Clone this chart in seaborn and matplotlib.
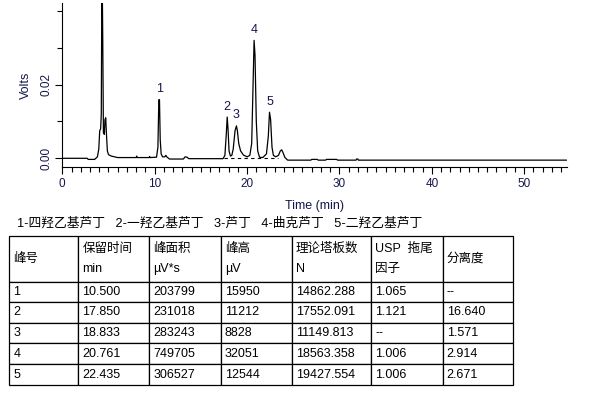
import matplotlib
matplotlib.use("Agg")
import matplotlib.pyplot as plt
from matplotlib.ticker import MultipleLocator, FixedLocator
import seaborn as sns

# chromatogram trace (min, V)
trace_time = [0, 2.7, 2.8, 3.5, 3.8, 3.95, 4.05, 4.15, 4.22, 4.28, 4.33, 4.38,
              4.45, 4.55, 4.62, 4.7, 4.78, 4.88, 5.0, 5.3, 6.0, 8.0, 8.05, 8.1,
              9.4, 9.45, 9.5, 10.2, 10.35, 10.45, 10.52, 10.6, 10.7, 10.85,
              11.1, 11.2, 11.35, 11.6, 13.1, 13.3, 13.5, 13.7, 17.4, 17.6,
              17.75, 17.85, 17.95, 18.05, 18.2, 18.35, 18.5, 18.7, 18.85, 18.95,
              19.1, 19.3, 19.6, 20.0, 20.3, 20.5, 20.65, 20.76, 20.86, 21.0,
              21.15, 21.35, 21.7, 22.1, 22.3, 22.43, 22.55, 22.7, 22.85, 23.1,
              23.4, 23.6, 23.75, 23.9, 24.1, 24.4, 26.9, 27.0, 27.6, 27.7,
              28.5, 28.6, 29.7, 29.8, 31.8, 31.85, 32.0, 32.05, 54.6]
trace_volts = [0, 0, -0.0003, -0.0003, 0.0004, 0.0025, 0.0075, 0.008, 0.012,
               0.046, 0.046, 0.032, 0.007, 0.0065, 0.0105, 0.011, 0.0065,
               0.002, 0.001, 0.0006, 0.0002, 0.0002, 0.0006, 0.0002, 0.0002,
               0.0005, 0.0002, 0.0003, 0.003, 0.0159, 0.0159, 0.005, 0.0012,
               0.0004, 0.0004, 0.0008, 0.0003, -0.0002, -0.0002, 0.0004,
               0.0003, -0.0001, -0.0001, 0.0008, 0.0065, 0.0112, 0.0075, 0.002,
               0.0006, 0.0008, 0.0025, 0.0075, 0.0088, 0.0075, 0.004, 0.002,
               0.0009, 0.0004, 0.0008, 0.004, 0.02, 0.032, 0.028, 0.01, 0.002,
               0.0003, 0.0002, 0.0012, 0.006, 0.0125, 0.0105, 0.003, 0.0008,
               0.0004, 0.0008, 0.002, 0.0023, 0.0015, 0.0002, -0.0005, -0.0005,
               -0.0003, -0.0003, -0.0005, -0.0005, -0.0003, -0.0003, -0.0005,
               -0.0005, -0.0002, -0.0002, -0.0005, -0.0005]

# integration baseline under peaks 2-5
base_time = [17.55, 23.3]
base_volts = [0, 0]

# peak table
peak_no = ["1", "2", "3", "4", "5"]
ret_time = [10.500, 17.850, 18.833, 20.761, 22.435]
peak_area = [203799, 231018, 283243, 749705, 306527]
peak_height = [15950, 11212, 8828, 32051, 12544]  # µV
plates = [14862.288, 17552.091, 11149.813, 18563.358, 19427.554]
tailing = ["1.065", "1.121", "--", "1.006", "1.006"]
resolution = ["--", "16.640", "1.571", "2.914", "2.671"]
col_labels = ["峰号", "保留时间\nmin", "峰面积\nµV*s", "峰高\nµV",
              "理论塔板数\nN", "USP  拖尾\n因子", "分离度"]
compounds = ["四羟乙基芦丁", "一羟乙基芦丁", "芦丁", "曲克芦丁", "二羟乙基芦丁"]

sns.set_style("ticks")
plt.rcParams['font.family'] = ['Liberation Sans', 'Noto Sans CJK SC', 'DejaVu Sans']
TXT = '#16164a'

fig = plt.figure(figsize=(5.89, 3.96), dpi=100)
fig.patch.set_facecolor('white')

W, H = 589, 396
ax = fig.add_axes([62.3 / W, 1 - 166.7 / H, (566.7 - 62.3) / W, (166.7 - 3) / H])
ax.set_facecolor('white')

sns.lineplot(x=trace_time, y=trace_volts, ax=ax, color='black', lw=0.9,
             estimator=None, sort=False)
ax.plot(base_time, base_volts, color='black', lw=0.8, ls=(0, (3, 3)))

for n, rt, h in zip(peak_no, ret_time, peak_height):
    ax.annotate(n, (rt, h / 1e6), xytext=(0, 7.5), textcoords='offset points',
                ha='center', va='center', fontsize=9, color=TXT)

ax.set_xlim(0, 54.6)
ax.set_ylim(-0.00228, 0.04214)
ax.xaxis.set_major_locator(MultipleLocator(10))
ax.xaxis.set_minor_locator(MultipleLocator(1))
ax.yaxis.set_major_locator(FixedLocator([0.0, 0.02]))
ax.yaxis.set_minor_locator(FixedLocator([0.01, 0.03, 0.04]))
ax.set_yticklabels(["0.00", "0.02"], rotation=90, va='center')
ax.tick_params(axis='both', which='major', length=5, width=0.8, direction='out',
               labelsize=8.5, labelcolor=TXT, color='black')
ax.tick_params(axis='both', which='minor', length=3.5, width=0.8, direction='out',
               color='black')
ax.tick_params(axis='x', which='major', pad=3)
ax.tick_params(axis='y', which='major', pad=2)
ax.set_xlabel("Time (min)", fontsize=9, color=TXT, labelpad=7)
ax.set_ylabel("Volts", fontsize=9, color=TXT, labelpad=6)
for s in ['top', 'right']:
    ax.spines[s].set_visible(False)
for s in ['left', 'bottom']:
    ax.spines[s].set_linewidth(0.8)
    ax.spines[s].set_color('black')

# legend line of compound names
legend_txt = "   ".join(f"{i + 1}-{c}" for i, c in enumerate(compounds))
fig.text(16.7 / W, 1 - 223.3 / H, legend_txt, fontsize=9.2, color='black',
         ha='left', va='center')

# table
rows = []
for i in range(len(peak_no)):
    rows.append([peak_no[i], f"{ret_time[i]:.3f}", str(peak_area[i]),
                 str(peak_height[i]), f"{plates[i]:.3f}", tailing[i],
                 resolution[i]])

col_w = [69, 71, 71.4, 71, 79.6, 71.4, 70.6]
row_h = [46.3, 19.7, 20.7, 20.6, 20.7, 21.0]

tab_ax = fig.add_axes([9.3 / W, 1 - 385 / H, (513.3 - 9.3) / W, (385 - 236) / H])
tab_ax.axis('off')
tbl = tab_ax.table(cellText=rows, colLabels=col_labels, colWidths=col_w,
                   cellLoc='left', colLoc='left', bbox=[0, 0, 1, 1])
tbl.auto_set_font_size(False)
tbl.set_fontsize(9)
for (r, c), cell in tbl.get_celld().items():
    cell.set_height(row_h[r])
    cell.set_linewidth(0.9)
    cell.set_edgecolor('black')
    cell.set_facecolor('white')
    cell.PAD = 4.0 / col_w[c]
    cell.get_text().set_color('black')
    if r == 0:
        cell.get_text().set_linespacing(1.9)

fig.savefig("out.png", dpi=100)
